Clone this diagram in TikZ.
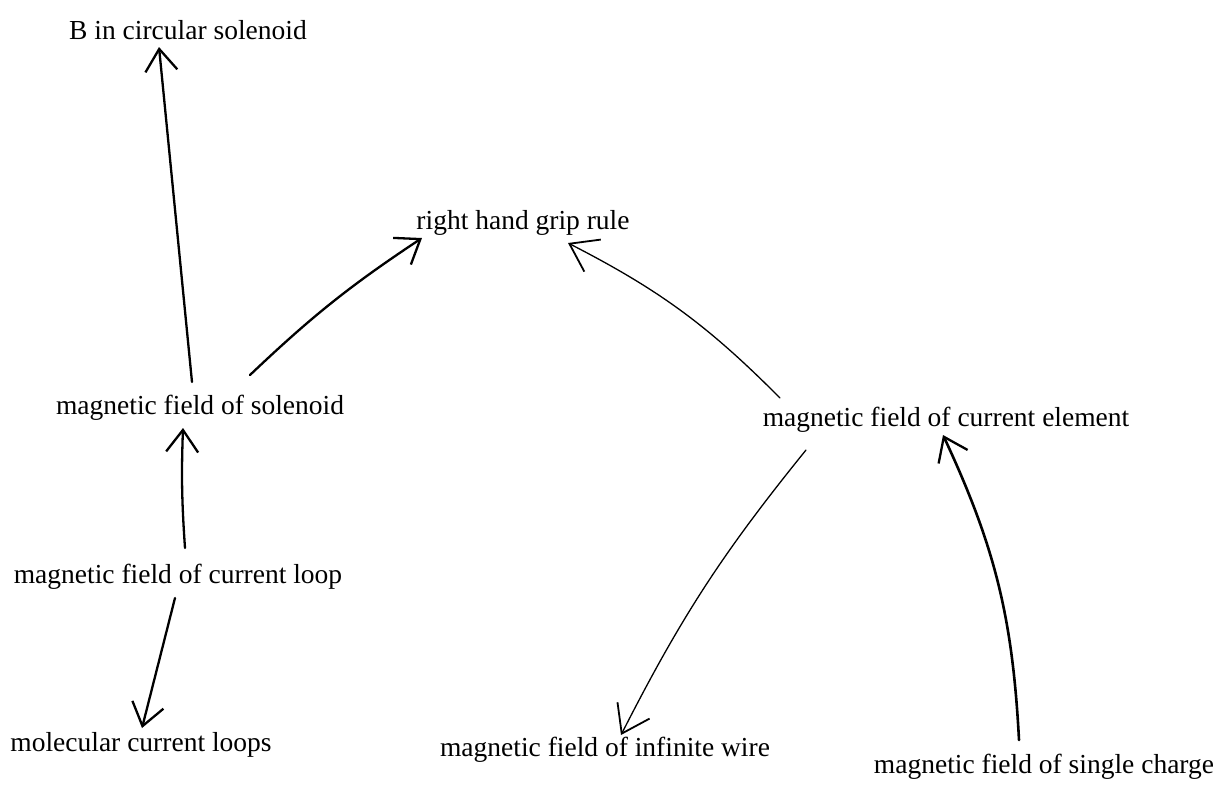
\documentclass[tikz,border=0pt]{standalone}
\usepackage{fontspec}
\setmainfont{Liberation Serif}
\usetikzlibrary{arrows.meta,calc}
\begin{document}
\begin{tikzpicture}[x=1pt,y=-1pt,
  concept/.style={inner sep=0pt,font=\fontsize{27.5}{30}\selectfont},
  link/.style={line width=2.3pt,line cap=round,-{Straight Barb[length=22pt,width=32pt,line width=2.3pt]}},
  thinlink/.style={line width=1.3pt,line cap=round,-{Straight Barb[length=26pt,width=36pt,line width=1.8pt]}}]
\useasboundingbox[fill=white] (0,0) rectangle (1224,785);
\node[concept] (bcs)    at (188,30)  {B in circular solenoid};
\node[concept] (rhgr)   at (523,223) {right hand grip rule};
\node[concept] (sol)    at (200,408) {magnetic field of solenoid};
\node[concept] (ce)     at (946,420) {magnetic field of current element};
\node[concept] (loop)   at (178,577) {magnetic field of current loop};
\node[concept] (mol)    at (141,745) {molecular current loops};
\node[concept] (wire)   at (605,750) {magnetic field of infinite wire};
\node[concept] (charge) at (1044,767) {magnetic field of single charge};

\draw[link] ($(sol.center)+(-8,-26)$) -- ($(bcs.center)+(-29,17)$);
\draw[link] ($(sol.center)+(50,-33)$) to[bend left=5] ($(rhgr.center)+(-101,15)$);
\draw[thinlink] ($(ce.center)+(-166,-22)$) to[bend right=9] ($(rhgr.center)+(45,20)$);
\draw[link] ($(loop.center)+(7,-29)$) to[bend left=3] ($(sol.center)+(-17,20)$);
\draw[link] ($(loop.center)+(-3,21)$) -- ($(mol.center)+(1,-17)$);
\draw[thinlink] ($(ce.center)+(-140,30)$) to[bend right=6] ($(wire.center)+(16,-15)$);
\draw[link,line width=2.6pt] ($(charge.center)+(-25,-27)$) to[bend right=11] ($(ce.center)+(-3,15)$);
\end{tikzpicture}
\end{document}
